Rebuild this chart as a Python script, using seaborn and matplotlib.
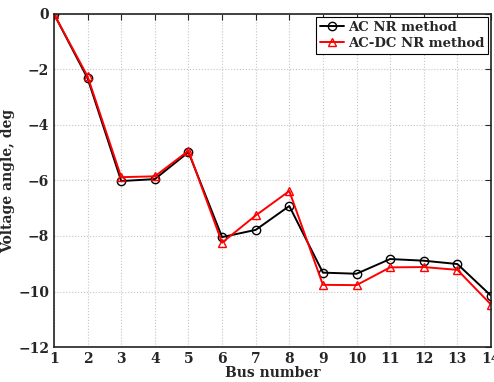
import seaborn as sns
import matplotlib.pyplot as plt
import pandas as pd
import numpy as np

bus = list(range(1, 15))
ac_nr = [0, -2.32, -6.02, -5.95, -4.98, -8.04, -7.78, -6.92, -9.32, -9.36, -8.83, -8.89, -9.01, -10.15]
acdc_nr = [0, -2.25, -5.88, -5.85, -4.93, -8.24, -7.26, -6.38, -9.76, -9.77, -9.13, -9.12, -9.22, -10.47]
series_labels = ["AC NR method", "AC-DC NR method"]

sns.set_style("white")
plt.rcParams["font.family"] = ["DejaVu Serif"]
plt.rcParams["font.weight"] = "bold"

df = pd.DataFrame({"bus": bus, "ac": ac_nr, "acdc": acdc_nr})

fig = plt.figure(figsize=(4.94, 3.82), dpi=100)
ax = fig.add_axes([0.1093, 0.0916, 0.8846, 0.8718])

sns.lineplot(data=df, x="bus", y="ac", ax=ax, color="black", marker="o",
             markersize=6, markerfacecolor="none", markeredgecolor="black",
             markeredgewidth=1.0, linewidth=1.4, label=series_labels[0])
sns.lineplot(data=df, x="bus", y="acdc", ax=ax, color="red", marker="^",
             markersize=6, markerfacecolor="none", markeredgecolor="red",
             markeredgewidth=1.0, linewidth=1.4, label=series_labels[1])

ax.set_xlim(1, 14)
ax.set_ylim(-12, 0)
ax.set_xticks(bus)
ax.set_yticks(np.arange(-12, 1, 2))
ax.tick_params(direction="in", top=True, right=True, length=4, labelsize=10)
for lab in ax.get_xticklabels() + ax.get_yticklabels():
    lab.set_fontweight("bold")
ax.grid(True, linestyle=":", color="#c4c4c4", linewidth=0.8)
for s in ax.spines.values():
    s.set_color("#222222")
    s.set_linewidth(1.2)

ax.set_xlabel("Bus number", fontsize=10, fontweight="bold", labelpad=0)
ax.set_ylabel("Voltage angle, deg", fontsize=10, fontweight="bold", labelpad=2)

leg = ax.legend(loc="upper right", fancybox=False, edgecolor="black",
                framealpha=1, prop={"size": 9.5, "weight": "bold"},
                handlelength=1.8, handletextpad=0.3, borderpad=0.3,
                labelspacing=0.25, borderaxespad=0.2)
leg.get_frame().set_linewidth(0.8)

plt.savefig("out.png", dpi=100)
